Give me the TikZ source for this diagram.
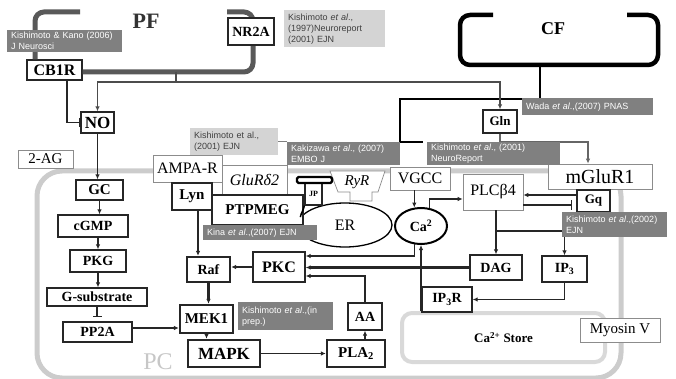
\documentclass[tikz,border=0pt]{standalone}
\usepackage{fontspec}
\setmainfont{Liberation Serif}
\newfontfamily\citefont{Liberation Sans}
\usepackage{tikz}
\usetikzlibrary{calc, positioning, arrows.meta, shapes.geometric}

\begin{document}
\begin{tikzpicture}[x=1pt, y=-1pt,
        wh/.style 2 args={minimum width=#1pt, minimum height=#2pt},
        mol/.style={draw=black!85, line width=1.3pt, fill=white, inner sep=0pt, font=\fontsize{#1}{#1}\selectfont\bfseries},
        mol/.default=14,
        kin/.style={mol=#1, line width=2.3pt},
        kin/.default=14,
        rcpt/.style={draw=black!45, line width=0.7pt, fill=white, inner sep=0pt, font=\fontsize{#1}{#1}\selectfont},
        rcpt/.default=16,
        ref/.style={fill=black!50, text=white, anchor=north west, inner xsep=4pt, inner ysep=0pt, align=left, font=\citefont\fontsize{9}{11}\selectfont},
        reflight/.style={ref, fill=black!17, text=black!75},
        link/.style={draw=black!85, line width=1.1pt, -{Latex[length=5pt, width=4.5pt]}},
        thicklink/.style={link, line width=2.4pt},
        inhib/.style={draw=black!85, line width=1.1pt, -{Bar[width=9pt]}},
        bus/.style={draw=black!70, line width=1.8pt},
        pfline/.style={draw=black!65, line width=5pt, rounded corners=9pt},
        cfline/.style={draw=black, line width=4.5pt, rounded corners=10pt}]
    \useasboundingbox (0,0) rectangle (676,379);

    \draw[draw=black!20, line width=5pt, rounded corners=25pt] (37,171) rectangle (621,378);
    \node[draw=black!15, line width=4pt, rounded corners=10pt, fill=white, wh={203}{49}, font=\fontsize{13}{13}\selectfont\bfseries] (castore) at (503.5,337.5) {Ca\textsuperscript{2+} Store};

    \node[mol=16, wh={55}{20}] (cbr) at (54.5,70) {CB1R};
    \draw[pfline] ([xshift=-19.5pt]cbr.north) |- (80,12);
    \draw[pfline] (227,12) -| (253,72) -- (cbr.east |- 0,72);
    \draw[cfline] (493,15) -| (460,65) -| (658,15) -- (627,15);
    \coordinate (pfout) at (176,72);
    \coordinate (pfbus) at (176,82);
    \coordinate (cfout) at (540,65);
    \coordinate (cfend) at (423,142);
    \draw[black, line width=2.5pt] (cfout) |- (400,99) |- (cfend);

    \node[mol, wh={46}{27}] (nr2a) at (251,31.5) {NR2A};
    \node[mol=17, wh={33}{21}] (no) at (97.5,122.5) {NO};
    \node[rcpt=15, wh={55}{18}] (twoag) at (45.5,159) {2-AG};
    \node[mol=15, wh={47}{20}] (gc) at (99.5,190) {GC};
    \node[mol, wh={70}{22}] (cgmp) at (93,226) {cGMP};
    \node[mol, wh={56}{22}] (pkg) at (98,261) {PKG};
    \node[mol, wh={100}{18}] (gsub) at (97,297) {G-substrate};
    \node[mol, wh={69}{20}] (pp2a) at (97.5,332) {PP2A};

    \node[rcpt, wh={69}{27}] (ampa) at (187.5,168.5) {AMPA-R};
    \node[rcpt, wh={65}{30}, font=\fontsize{16}{16}\selectfont\itshape] (glur) at (254.5,180) {GluRδ2};
    \node[kin=15, wh={40}{27}] (lyn) at (192,196.5) {Lyn};
    \node[draw=black, line width=1.3pt, ellipse, wh={94}{44}, inner sep=0pt, font=\fontsize{16}{16}\selectfont] (er) at (345,225) {ER};
    \node[mol=15, wh={91}{30}] (ptp) at (257.5,210) {PTPMEG};
    \node[mol=8, wh={17}{23}] (jp) at (313.5,193.5) {JP};
    \draw[draw=black!45, line width=0.7pt, fill=white] (330,171) -- (385,171) -- (378,192) -- (372,192) -- (372,201) -- (350,201) -- (350,192) -- (338,192) -- cycle;
    \node[font=\fontsize{15}{15}\selectfont\itshape] (ryr) at (357,182) {RyR};
    \node[rcpt, wh={60}{23}] (vgcc) at (420,178.5) {VGCC};
    \node[draw=black, line width=2pt, ellipse, fill=white, wh={52}{36}, inner sep=0pt, font=\fontsize{14}{14}\selectfont\bfseries] (ca) at (421,226) {Ca\textsuperscript{2}};
    \node[rcpt, wh={60}{36}] (plc) at (493,192) {PLCβ4};
    \node[rcpt=20, wh={104}{25}] (mglur) at (600,176.5) {mGluR1};
    \node[mol=13, wh={33}{22}, line width=2pt] (gq) at (593.5,201) {Gq};
    \node[mol=13, wh={34}{23}] (gln) at (500,121.5) {Gln};

    \node[mol, wh={52}{25}] (dag) at (496,267.5) {DAG};
    \node[mol, wh={45}{26}] (ip3) at (564.5,269) {IP\textsubscript{3}};
    \node[mol, wh={50}{25}] (ip3r) at (447,299.5) {IP\textsubscript{3}R};
    \node[rcpt=15, wh={80}{24}] (myosin) at (620,330) {Myosin V};
    \node[mol=16, wh={52}{30}] (pkc) at (279,267) {PKC};
    \node[kin, wh={43}{25}] (raf) at (208.5,269.5) {Raf};
    \node[kin=15, wh={53}{28}] (mek) at (206.5,319) {MEK1};
    \node[kin=17, wh={72}{27}] (mapk) at (224,353.5) {MAPK};
    \node[kin=15, wh={58}{27}] (pla) at (356,353.5) {PLA\textsubscript{2}};
    \node[mol, wh={34}{27}] (aa) at (365,316.5) {AA};

    \draw[bus] (pfout) -- (pfbus);
    \draw[bus, -{Latex[length=5pt, width=4.5pt]}] (pfbus) -| (no.north);
    \draw[bus, -{Latex[length=5pt, width=4.5pt]}] (pfbus) -| (gln.north);
    \draw[inhib] ([xshift=12.5pt]cbr.south) |- (no.west);
    \draw[link] (no.south) -- (no.south |- gc.north);
    \draw[link] (gc.south) -- (gc.south |- cgmp.north);
    \draw[link] (pkg.north |- cgmp.south) -- (pkg.north);
    \draw[link] (pkg.south) -- (pkg.south |- gsub.north);
    \draw[inhib, shorten >=4pt] (gsub.south) -- (gsub.south |- pp2a.north);
    \draw[link] ([yshift=4pt]pp2a.east) -- ([yshift=4pt]pp2a.east -| mek.west);
    \draw[link] ([xshift=6pt]lyn.south) -- ([xshift=6pt]lyn.south |- raf.north);
    \draw[thicklink] (raf.south) -- (raf.south |- mek.north);
    \draw[link] (mek.south) -- (mek.south |- mapk.north);
    \draw[link] (mapk.east) -- (pla.west);
    \draw[link] (aa.south |- pla.north) -- (aa.south);
    \draw[link] (aa.north) |- ([yshift=-9pt]pkc.east);
    \draw[thicklink] (dag.west) -- (dag.west -| pkc.east);
    \draw[link] (ca.250) |- ([yshift=11pt]pkc.east);
    \draw[link] (pkc.west) -- (pkc.west -| raf.east);
    \draw[link] (vgcc.south -| ca.110) -- (ca.110);
    \draw[link] (ca.65) |- ([yshift=-7pt]plc.west);
    \draw[link] (castore.north -| ca.south) -- (ca.south);
    \draw[link] (ip3.south) |- (ip3r.east);
    \draw[link] (dag.north |- plc.south) -- (dag.north);
    \draw[link] (dag.north |- 0,231) -| (ip3.north);
    \draw[link] ([yshift=6pt]gq.west) -- ([yshift=6pt]gq.west -| plc.east);
    \draw[inhib, shorten >=4pt] ([yshift=-13pt]plc.east) -- ([yshift=-13pt]plc.east -| gq.west);
    \draw[link, draw=black!60] (gln.south) |- ([xshift=-12pt]mglur.north |- 0,142) -- ([xshift=-12pt]mglur.north);
    \draw[line width=1.5pt] (jp.south west) to[out=260, in=80] (er.170);

    \node[ref, text width=107pt, minimum height=22pt] (kano) at (7,30) {Kishimoto \& Kano (2006)\\J Neurosci};
    \node[reflight, text width=93pt, minimum height=37pt] (nrref) at (284,10) {Kishimoto \textit{et al}.,\\(1997)Neuroreport\\(2001) EJN};
    \node[ref, text width=123pt, minimum height=17pt] (wada) at (522,98) {Wada \textit{et al}.,(2007) PNAS};
    \node[reflight, text width=80pt, minimum height=27pt] (ejnref) at (190,128) {Kishimoto et al.,\\(2001) EJN};
    \node[ref, text width=105pt, minimum height=23pt] (kaki) at (287,142) {Kakizawa \textit{et al}., (2007)\\EMBO J};
    \node[ref, text width=125pt, minimum height=23pt] (nrep) at (427,142) {Kishimoto \textit{et al}., (2001)\\NeuroReport};
    \node[ref, text width=106pt, minimum height=15pt] (kina) at (203,225) {Kina \textit{et al}.,(2007) EJN};
    \node[ref, text width=97pt, minimum height=25pt] (gqref) at (562,212) {Kishimoto \textit{et al}.,(2002)\\EJN};
    \node[ref, text width=87pt, minimum height=28pt] (prep) at (238,302) {Kishimoto \textit{et al}.,(in\\prep.)};
    \draw[black!50, line width=1pt] (ejnref.east) -- (ejnref.east -| kaki.west);

    \draw[line width=2.2pt, rounded corners=1.5pt, fill=white] (297,177) rectangle (332,183);
    \node[font=\fontsize{22}{22}\selectfont\bfseries, text=black!80] (pf) at (146,21) {PF};
    \node[font=\fontsize{18}{18}\selectfont\bfseries] (cf) at (553,29) {CF};
    \node[font=\fontsize{24}{24}\selectfont, text=black!22] (pc) at (158,362) {PC};
\end{tikzpicture}
\end{document}
